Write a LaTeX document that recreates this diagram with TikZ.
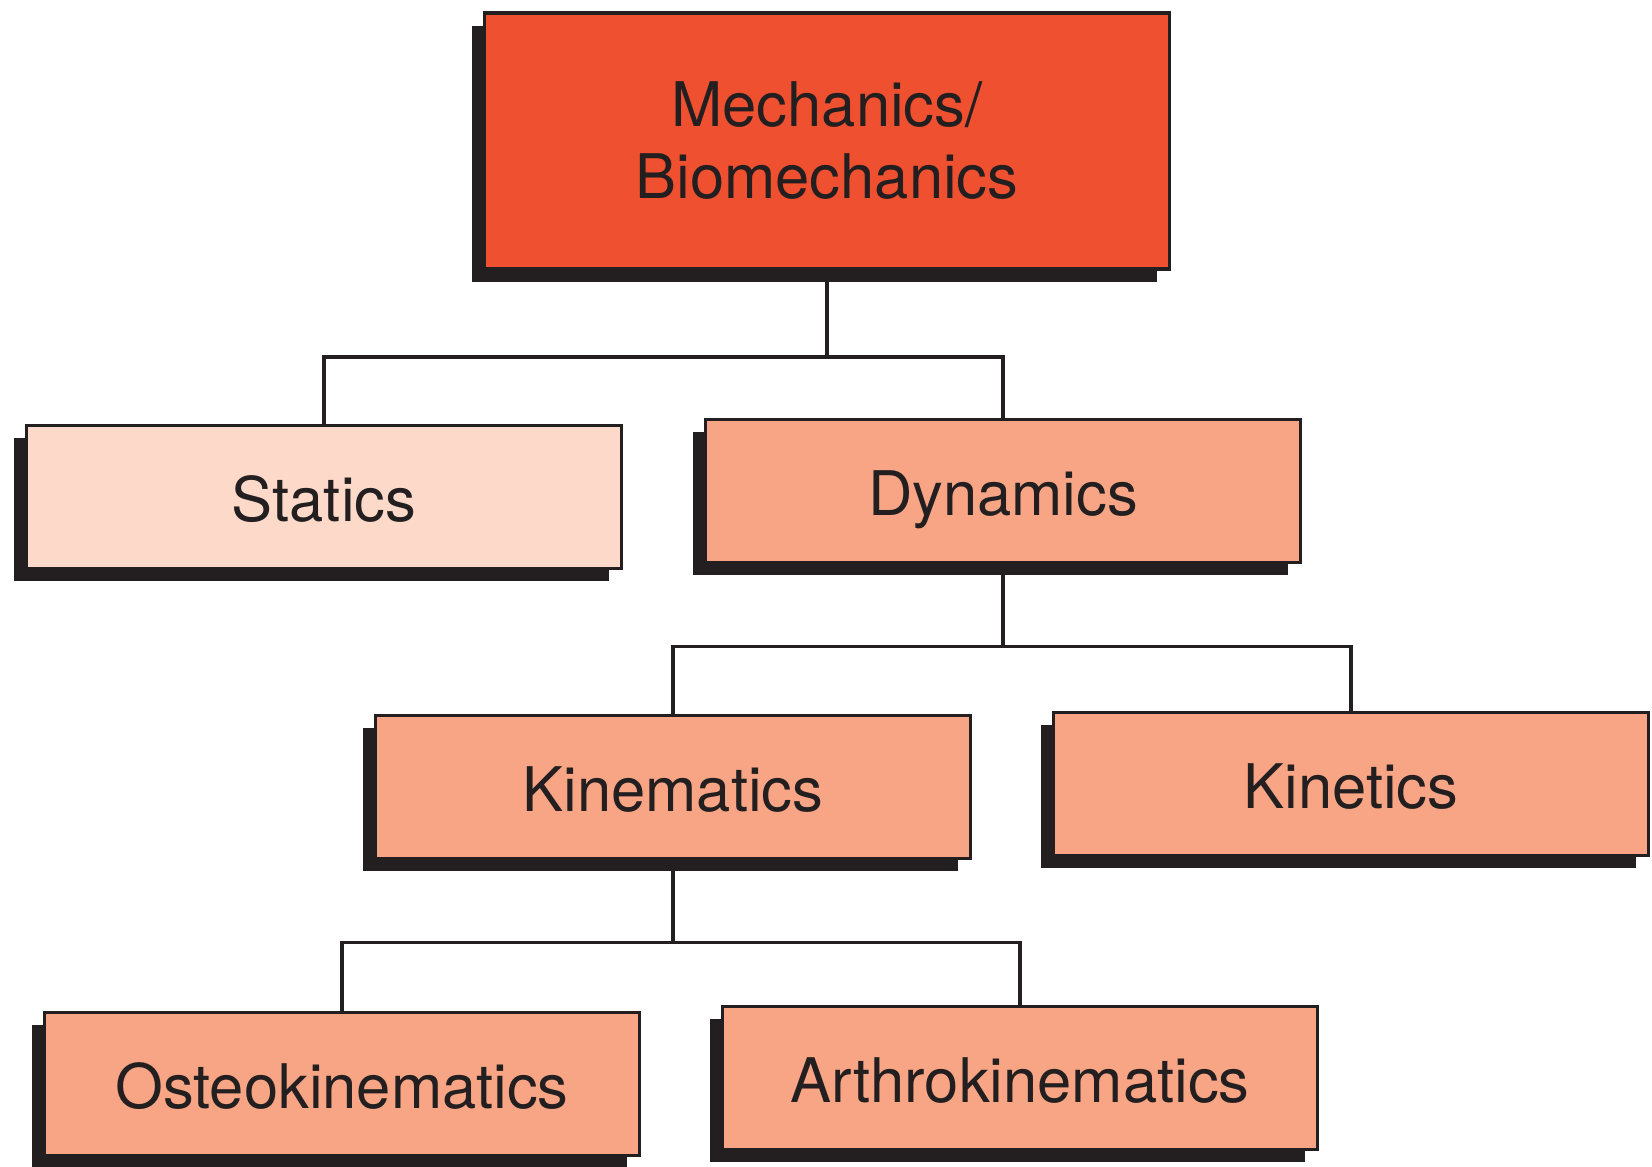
\documentclass[tikz,border=0pt]{standalone}
\usepackage{fontspec}
\setmainfont{TeX Gyre Heros}
\usetikzlibrary{shadows}

\definecolor{mechred}{HTML}{EF5030}
\definecolor{staticpink}{HTML}{FCD9C8}
\definecolor{salmon}{HTML}{F7A584}
\definecolor{inkblack}{HTML}{231F20}

\begin{document}
\begin{tikzpicture}[line width=1pt, draw=inkblack]
        \tikzstyle{every node}=[draw=inkblack, line width=1.1pt, text=inkblack, font=\fontsize{17.5}{20.5}\selectfont,
            drop shadow={shadow xshift=-1.3mm, shadow yshift=-1.3mm, fill=inkblack, opacity=1}]
        \tikzstyle{branch}=[fill=salmon, minimum width=5.95cm, minimum height=1.43cm, text height=0.5cm, text depth=0cm]
        \useasboundingbox (0,0) rectangle (16.52,11.67);
        \node[fill=mechred, minimum width=6.85cm, minimum height=2.56cm, align=center] (mech) at (8.27,10.26) {Mechanics/\\Biomechanics};
        \node[branch, fill=staticpink] (statics) at (3.24,6.70) {Statics};
        \node[branch] (dynamics) at (10.03,6.76) {Dynamics};
        \node[branch] (kinematics) at (6.73,3.80) {Kinematics};
        \node[branch] (kinetics) at (13.51,3.83) {Kinetics};
        \node[branch] (osteo) at (3.42,0.83) {Osteokinematics};
        \node[branch] (arthro) at (10.20,0.89) {Arthrokinematics};
        \draw (mech.south) -- ++(0,-0.86) -| (statics.north);
        \draw (mech.south) ++(0,-0.86) -| (dynamics.north);
        \draw (dynamics.south) -- ++(0,-0.82) -| (kinematics.north);
        \draw (dynamics.south) ++(0,-0.82) -| (kinetics.north);
        \draw (kinematics.south) -- ++(0,-0.82) -| (osteo.north);
        \draw (kinematics.south) ++(0,-0.82) -| (arthro.north);
    \end{tikzpicture}
\end{document}
